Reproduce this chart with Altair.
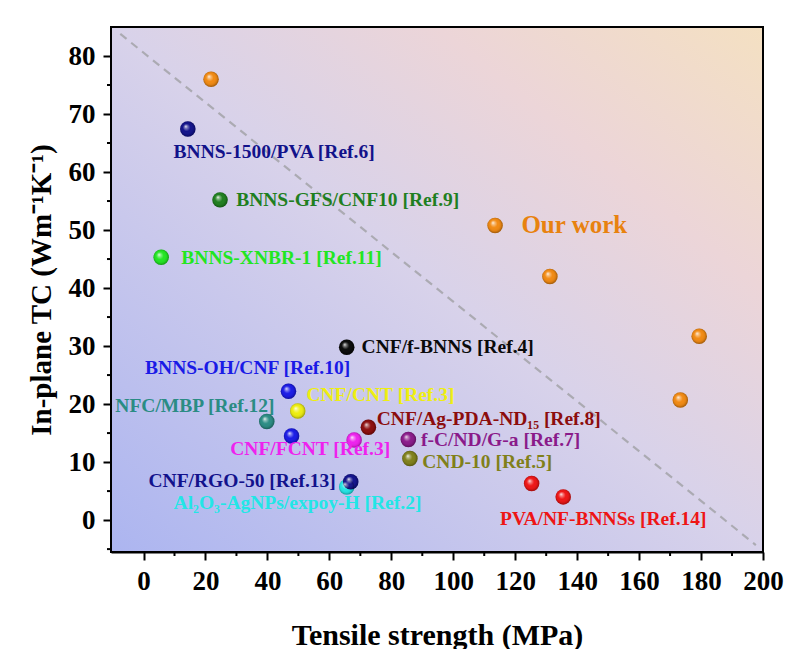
import altair as alt
import pandas as pd

W, H = 652, 525
FONT = "Liberation Serif"

# ---- data ----
group_names = ["ours", "bnns1500", "gfs", "xnbr", "fbnns", "ohcnf", "cnt", "mbp",
               "agpda", "fcnd", "cnd10", "fcnt", "al2o3", "rgo", "pva"]
group_colors = ["#f28a12", "#12128a", "#1f7f1f", "#22e622", "#0a0a0a", "#1a1ae6",
                "#eeee11", "#2a8c84", "#8c0d0d", "#8a1a8a", "#80801a", "#ee22ee",
                "#22e6e6", "#12128c", "#ee1515"]

pt_group = ["ours", "ours", "ours", "ours", "ours", "bnns1500", "gfs", "xnbr",
            "fbnns", "ohcnf", "ohcnf", "cnt", "mbp", "fcnt", "agpda", "fcnd",
            "cnd10", "al2o3", "rgo", "pva", "pva"]
pt_x = [21.8, 113.5, 131.2, 179.4, 173.3, 14.3, 24.7, 5.7,
        65.6, 46.8, 47.8, 49.8, 39.8, 68.0, 72.6, 85.5,
        86.0, 65.6, 66.9, 125.3, 135.5]
pt_y = [76.0, 50.8, 42.0, 31.7, 20.7, 67.4, 55.2, 45.3,
        29.8, 22.2, 14.5, 18.8, 17.0, 13.8, 16.0, 13.9,
        10.6, 5.7, 6.6, 6.3, 4.0]

lab_text = ["BNNS-1500/PVA [Ref.6]", "BNNS-GFS/CNF10 [Ref.9]", "BNNS-XNBR-1 [Ref.11]",
            "CNF/f-BNNS [Ref.4]", "BNNS-OH/CNF [Ref.10]", "CNF/CNT [Ref.3]",
            "NFC/MBP [Ref.12]", "CNF/Ag-PDA-ND\u2081\u2085 [Ref.8]", "f-C/ND/G-a [Ref.7]",
            "CND-10 [Ref.5]", "CNF/FCNT [Ref.3]", "CNF/RGO-50 [Ref.13]",
            "Al\u2082O\u2083-AgNPs/expoy-H [Ref.2]", "PVA/NF-BNNSs [Ref.14]"]
lab_group = ["bnns1500", "gfs", "xnbr", "fbnns", "ohcnf", "cnt", "mbp", "agpda",
             "fcnd", "cnd10", "fcnt", "rgo", "al2o3", "pva"]
lab_x = [9.7, 29.9, 12.2, 70.4, 0.5, 52.6, -9.1, 75.3, 89.6, 90.0, 28.0, 1.6, 9.7, 115.1]
lab_y = [63.5, 55.2, 45.1, 29.8, 26.2, 21.5, 19.6, 17.5, 13.8, 10.0, 12.3, 6.7, 2.9, 0.2]

ours_text = ["Our work"]
ours_x = [122.0]
ours_y = [50.9]

guide_x = [-7.5, 197.7]
guide_y = [83.8, -4.3]

x_major = list(range(0, 201, 20))
x_minor = list(range(10, 200, 20))
y_major = list(range(0, 81, 10))
y_minor = list(range(-5, 80, 10))

pts = pd.DataFrame({"x": pt_x, "y": pt_y, "g": pt_group})
labs = pd.DataFrame({"x": lab_x, "y": lab_y, "t": lab_text, "g": lab_group})
ours = pd.DataFrame({"x": ours_x, "y": ours_y, "t": ours_text})
guide = pd.DataFrame({"x": guide_x, "y": guide_y})
xmin_df = pd.DataFrame({"x": x_minor})
ymin_df = pd.DataFrame({"y": y_minor})
one = pd.DataFrame({"a": [0]})

# ---- scales / axes ----
xs = alt.Scale(domain=[-10.5, 200], nice=False, zero=False)
ys = alt.Scale(domain=[-5.5, 85], nice=False, zero=False)
cs = alt.Scale(domain=group_names, range=group_colors)

axis_common = dict(grid=False, tickSize=8, tickWidth=2, tickColor="black",
                   domainColor="black", domainWidth=2,
                   labelFont=FONT, labelFontSize=27, labelFontWeight="bold",
                   labelColor="black", titleFont=FONT, titleFontWeight="bold",
                   titleColor="black")
xaxis = alt.Axis(values=x_major, title="Tensile strength (MPa)", titleFontSize=30,
                 labelPadding=8, titlePadding=26, labelFlush=False, **axis_common)
yaxis = alt.Axis(values=y_major, title="In-plane TC (Wm\u207b\u00b9K\u207b\u00b9)",
                 titleFontSize=29, labelPadding=8, titlePadding=12, labelFlush=False,
                 **axis_common)


def X(f="x"):
    return alt.X(f"{f}:Q", scale=xs, axis=xaxis)


def Y(f="y"):
    return alt.Y(f"{f}:Q", scale=ys, axis=yaxis)


bg_grad = alt.LinearGradient(
    gradient="linear", x1=0, y1=1, x2=1, y2=0,
    stops=[alt.GradientStop(offset=0, color="#acb5f0"),
           alt.GradientStop(offset=0.5, color="#d8d2ea"),
           alt.GradientStop(offset=0.75, color="#ecd5d8"),
           alt.GradientStop(offset=1, color="#f4e0c2")])

background = alt.Chart(one).mark_rect(fill=bg_grad).encode(
    x=alt.value(0), x2=alt.value(W), y=alt.value(0), y2=alt.value(H))

guide_line = alt.Chart(guide).mark_line(
    color="#a3a3a8", strokeWidth=2.2, strokeDash=[8, 6], opacity=0.85
).encode(x=X(), y=Y())

xminor_rules = alt.Chart(xmin_df).mark_rule(color="black", strokeWidth=2).encode(
    x=X(), y=alt.value(H), y2=alt.value(H + 4))
yminor_rules = alt.Chart(ymin_df).mark_rule(color="black", strokeWidth=2).encode(
    y=Y(), x=alt.value(0), x2=alt.value(-4))

balls = alt.Chart(pts).mark_circle(size=240, opacity=1).encode(
    x=X(), y=Y(), color=alt.Color("g:N", scale=cs, legend=None))

shine = {
    "gradient": "radial", "x1": 0.36, "y1": 0.32, "r1": 0, "x2": 0.5, "y2": 0.5, "r2": 0.55,
    "stops": [
        {"offset": 0, "color": "rgba(255,255,255,0.95)"},
        {"offset": 0.18, "color": "rgba(255,255,255,0.45)"},
        {"offset": 0.45, "color": "rgba(255,255,255,0)"},
        {"offset": 0.75, "color": "rgba(0,0,0,0.08)"},
        {"offset": 1, "color": "rgba(0,0,0,0.45)"},
    ],
}
highlight = alt.Chart(pts).mark_circle(size=240, opacity=1, fill=shine).encode(
    x=X(), y=Y())

labels = alt.Chart(labs).mark_text(
    align="left", baseline="middle", font=FONT, fontWeight="bold", fontSize=19.5
).encode(x=X(), y=Y(), text="t:N", color=alt.Color("g:N", scale=cs, legend=None))

ours_label = alt.Chart(ours).mark_text(
    align="left", baseline="middle", font=FONT, fontWeight="bold", fontSize=25,
    color="#e8820f"
).encode(x=X(), y=Y(), text="t:N")

frame = alt.Chart(one).mark_rect(fillOpacity=0, stroke="black", strokeWidth=2).encode(
    x=alt.value(0), x2=alt.value(W), y=alt.value(0), y2=alt.value(H))

chart = alt.layer(
    background, guide_line, xminor_rules, yminor_rules, balls, highlight,
    labels, ours_label, frame
).properties(
    width=W, height=H,
    autosize=alt.AutoSizeParams(type="none"),
    padding={"left": 103, "top": 19, "right": 21, "bottom": 97},
).configure_view(strokeOpacity=0)

chart.save("out.html", embed_options={"renderer": "svg", "actions": False})
